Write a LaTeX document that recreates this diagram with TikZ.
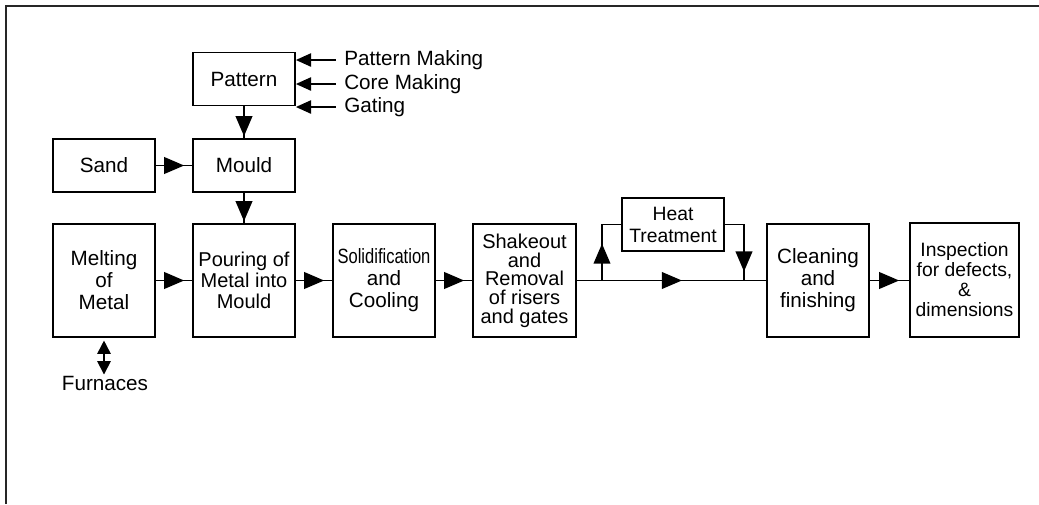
\documentclass[tikz,border=0pt]{standalone}
\usepackage{fontspec}
\setmainfont{Liberation Sans}
\usetikzlibrary{arrows.meta,decorations.markings}

\tikzset{
  procbox/.style={draw, line width=1.3pt, align=center, inner sep=1pt,
    minimum width=76.5pt, font={\fontsize{15.5}{16.5}\selectfont}},
  tallbox/.style={procbox, minimum height=84.75pt},
  flatbox/.style={procbox, minimum height=39.75pt},
  sidetext/.style={inner sep=0.75pt, font={\fontsize{15.5}{16.5}\selectfont}},
  flow/.style={line width=1.3pt, postaction={decorate},
    decoration={markings, mark=at position #1 with {\arrow{Triangle[length=15pt,width=12.5pt]}}}},
  flow/.default=-6pt,
  sideflow/.style={line width=1.3pt, -{Triangle[length=11.5pt,width=10pt]}, shorten <=5.5pt},
}

\begin{document}
\begin{tikzpicture}[x=0.75pt,y=0.75pt,yscale=-1,xscale=1]
        \useasboundingbox (0,0) rectangle (1039,504);

        %Frame: top and left edge only
        \draw [line width=1.8pt, color=black!85] (6,504) -- (6,6) -- (1039,6) ;

        %Boxes
        \node [flatbox] (pattern) at (244,79) {Pattern};
        \node [flatbox] (sand) at (104,165.5) {Sand};
        \node [flatbox] (mould) at (244,165.5) {Mould};
        \node [tallbox] (melting) at (104,280.5) {Melting\\of\\Metal};
        \node [tallbox, font={\fontsize{15}{15.5}\selectfont}] (pouring) at (244,280.5) {Pouring of\\Metal into\\Mould};
        \node [tallbox] (solid) at (384,280.5) {\scalebox{0.8}[1]{Solidification}\\and\\Cooling};
        \node [tallbox, minimum width=77.25pt, font={\fontsize{15}{14}\selectfont}] (shakeout) at (524.5,280.5) {Shakeout\\and\\Removal\\of risers\\and gates};
        \node [flatbox, font={\fontsize{14.5}{16.5}\selectfont}] (heat) at (673,224.5) {Heat\\Treatment};
        \node [tallbox] (cleaning) at (818,280.5) {Cleaning\\and\\finishing};
        \node [tallbox, minimum width=81.75pt, minimum height=85.5pt, font={\fontsize{14.5}{15}\selectfont}] (inspection) at (964.5,280) {Inspection\\for defects,\\\&\\dimensions};

        % Text Node
        \node [sidetext, anchor=west] (patmaking) at (343,60) {Pattern Making};
        % Text Node
        \node [sidetext, anchor=west] (coremaking) at (343,84) {Core Making};
        % Text Node
        \node [sidetext, anchor=west] (gating) at (343,107) {Gating};
        % Text Node
        \node [sidetext] (furnaces) at (105,383) {Furnaces};

        %Inputs to pattern
        \draw [sideflow] (patmaking.west) -- (patmaking.west -| pattern.east) ;
        \draw [sideflow] (coremaking.west) -- (coremaking.west -| pattern.east) ;
        \draw [sideflow] (gating.west) -- (gating.west -| pattern.east) ;

        %Flow lines
        \draw [flow=-1.5pt] (pattern) -- (mould) ;
        \draw [flow] (sand) -- (mould) ;
        \draw [flow=-1.5pt] (mould) -- (pouring) ;
        \draw [flow] (melting) -- (pouring) ;
        \draw [flow] (pouring) -- (solid) ;
        \draw [flow] (solid) -- (shakeout) ;
        \draw [flow=0.555] (shakeout) -- (cleaning) ;
        \draw [flow=-7.5pt] (cleaning.east) -- (cleaning.east -| inspection.west) ;

        %Heat treatment bypass
        \coordinate (branchup) at (602,280.5);
        \coordinate (branchdown) at (744,280.5);
        \draw [flow=0.49] (branchup) |- (heat.west) ;
        \draw [flow=0.88] (heat.east) -| (branchdown) ;

        %Furnaces
        \draw [line width=1.3pt, {Triangle[length=10pt,width=10pt]}-{Triangle[length=10pt,width=10pt]}, shorten <=2pt] (melting.south) -- (melting.south |- furnaces.north) ;

\end{tikzpicture}
\end{document}
